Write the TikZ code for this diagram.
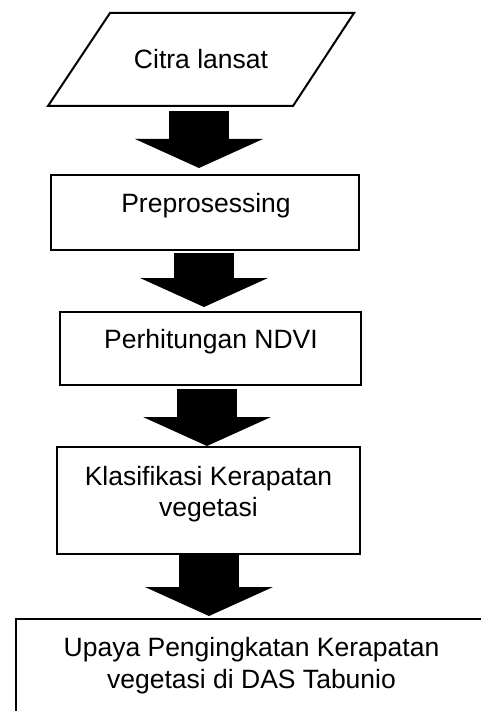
\documentclass[tikz,border=0pt]{standalone}
\usepackage{fontspec}
\setmainfont{Liberation Sans}
\usetikzlibrary{arrows.meta}

\tikzset{
  frame/.style={draw, line width=1pt, inner sep=0pt},
  txt/.style={font=\fontsize{13.25}{15.75}\selectfont, align=center, inner sep=0pt},
  fatarrow/.style={line width=30pt, -{Triangle[length=14.5pt, width=64pt, line width=0pt]}}
}

\begin{document}
\begin{tikzpicture}[x=0.5pt,y=-0.5pt]
  \useasboundingbox (0,0) rectangle (481,711);
  \clip (0,0) rectangle (481,711);

  \node[txt, outer sep=0pt, minimum width=153pt, minimum height=46.5pt] (citra) at (201,59.5) {Citra lansat};
  \draw[line width=1pt, line join=miter] ([xshift=31pt]citra.north west) -- (citra.north east)
    -- ([xshift=-30.5pt]citra.south east) -- (citra.south west) -- cycle;

  \node[frame, minimum width=154pt, minimum height=37.5pt] (pre) at (205,212.5) {};
  \node[txt, anchor=base] (pretext) at (206,212.5) {Preprosessing};

  \node[frame, minimum width=150.5pt, minimum height=36.5pt] (ndvi) at (210.5,348.5) {};
  \node[txt, anchor=base] (ndvitext) at (211,348) {Perhitungan NDVI};

  \node[frame, minimum width=151.5pt, minimum height=53.5pt] (klas) at (208.5,500.5) {};
  \node[txt] (klastext) at (208.5,494) {Klasifikasi Kerapatan\\vegetasi};

  \node[frame, minimum width=235.5pt, minimum height=53.5pt] (upaya) at (251.5,672.5) {};
  \node[txt] (upayatext) at (251.5,665.5) {Upaya Pengingkatan Kerapatan\\vegetasi di DAS Tabunio};

  % block arrows
  \draw[fatarrow] ([xshift=-1pt,yshift=-2.5pt]citra.south) -- ([xshift=-3pt,yshift=3pt]pre.north);
  \draw[fatarrow] ([xshift=-0.5pt,yshift=-1pt]pre.south) -- ([xshift=-3.25pt,yshift=2pt]ndvi.north);
  \draw[fatarrow] ([xshift=-1.75pt,yshift=-1.5pt]ndvi.south) -- ([xshift=-0.75pt,yshift=0pt]klas.north);
  \draw[fatarrow] ([xshift=0.25pt,yshift=0pt]klas.south) -- ([xshift=-21.25pt,yshift=1pt]upaya.north);
\end{tikzpicture}
\end{document}
